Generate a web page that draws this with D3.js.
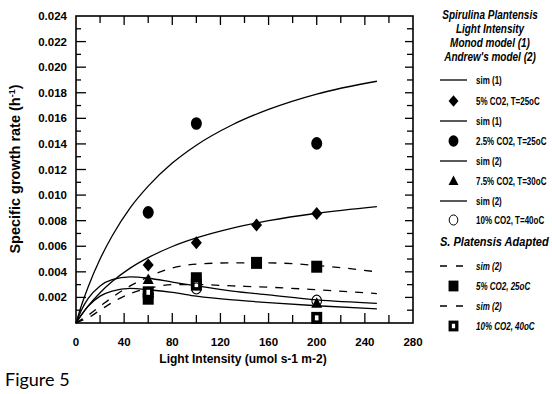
<!DOCTYPE html>
<html>
<head>
<meta charset="utf-8">
<script src="https://cdn.jsdelivr.net/npm/d3@7"></script>
<style>
  body { margin: 0; background: #fff; }
  svg text { font-family: "Liberation Sans", Arial, Helvetica, sans-serif; }
</style>
</head>
<body>
<svg id="chart" width="552" height="394"></svg>
<script>
// simulated curves, values
var simX = [0, 5, 10, 20, 30, 45, 60, 80, 100, 130, 160, 200, 250];
var monodA = [0, 0.0015, 0.0028, 0.0050, 0.0068, 0.0090, 0.0107, 0.0125, 0.0139, 0.0155, 0.0167, 0.0179, 0.0189];
var monodB = [0, 0.0007, 0.00132, 0.00237, 0.00324, 0.00429, 0.00511, 0.00598, 0.00665, 0.00742, 0.0080, 0.00858, 0.0091];
var andrewA = [0, 0.0011, 0.0019, 0.0029, 0.0034, 0.0036, 0.0035, 0.0032, 0.0029, 0.0025, 0.0022, 0.0018, 0.00154];
var andrewB = [0, 0.0007, 0.0013, 0.0021, 0.0025, 0.0027, 0.0026, 0.0024, 0.0021, 0.0018, 0.0016, 0.00135, 0.0011];
var adaptedA = [0, 0.0003, 0.0006, 0.0013, 0.0020, 0.0029, 0.0036, 0.0043, 0.0046, 0.0047, 0.0047, 0.0045, 0.0040];
var adaptedB = [0, 0.0002, 0.0004, 0.0010, 0.0016, 0.0023, 0.0027, 0.0030, 0.0030, 0.0029, 0.0028, 0.0026, 0.0023];

// measured points
var diamondX = [60, 100, 150, 200];
var diamondY = [0.00453, 0.00627, 0.00766, 0.00857];
var circleX = [60, 100, 200];
var circleY = [0.00865, 0.0156, 0.01404];
var triX = [60, 200];
var triY = [0.0034, 0.00154];
var openX = [100, 200];
var openY = [0.0027, 0.00174];
var squareX = [60, 100, 150, 200];
var squareY = [0.0019, 0.0035, 0.0047, 0.0044];
var holeX = [60, 100, 200];
var holeY = [0.0024, 0.0030, 0.0004];

var xTicks = [0, 40, 80, 120, 160, 200, 240, 280];
var yTicks = [0.002, 0.004, 0.006, 0.008, 0.010, 0.012, 0.014, 0.016, 0.018, 0.020, 0.022, 0.024];

var pLeft = 76, pRight = 413, pTop = 16, pBottom = 323;

var svg = d3.select("#chart");

var x = d3.scaleLinear().domain([0, 280]).range([pLeft, pRight]);
var y = d3.scaleLinear().domain([0, 0.024]).range([pBottom, pTop]);

// frame
svg.append("rect")
    .attr("x", pLeft).attr("y", pTop)
    .attr("width", pRight - pLeft).attr("height", pBottom - pTop)
    .attr("fill", "none").attr("stroke", "#000").attr("stroke-width", 1.6);

// ticks, all pointing inward
var minorY = d3.range(1, 24).map(function(i) { return i * 0.001; });
minorY.forEach(function(v, i) {
  var major = (i % 2 == 1);
  svg.append("line").attr("x1", pLeft).attr("x2", pLeft + (major ? 10 : 5))
     .attr("y1", y(v)).attr("y2", y(v)).attr("stroke", "#000").attr("stroke-width", 1.3);
  svg.append("line").attr("x1", pRight).attr("x2", pRight - (major ? 8 : 6))
     .attr("y1", y(v)).attr("y2", y(v)).attr("stroke", "#000").attr("stroke-width", 1.3);
});
d3.range(20, 280, 20).forEach(function(v) {
  var major = (v % 40 == 0);
  svg.append("line").attr("x1", x(v)).attr("x2", x(v))
     .attr("y1", pBottom).attr("y2", pBottom - (major ? 10 : 8)).attr("stroke", "#000").attr("stroke-width", 1.3);
  svg.append("line").attr("x1", x(v)).attr("x2", x(v))
     .attr("y1", pTop).attr("y2", pTop + (major ? 9 : 7)).attr("stroke", "#000").attr("stroke-width", 1.3);
});

// tick labels
svg.append("g").selectAll("text").data(yTicks).enter().append("text")
    .attr("x", 67).attr("y", function(d) { return y(d) + 4; })
    .attr("text-anchor", "end")
    .style("font-size", "11.5px").style("font-weight", "bold")
    .text(d3.format(".3f"));
svg.append("g").selectAll("text").data(xTicks).enter().append("text")
    .attr("x", function(d) { return x(d); }).attr("y", 346)
    .attr("text-anchor", "middle")
    .style("font-size", "11.5px").style("font-weight", "bold")
    .text(function(d) { return d; });

// axis titles
svg.append("text")
    .attr("transform", "translate(243,363) scale(0.89,1)").attr("text-anchor", "middle")
    .style("font-size", "13.5px").style("font-weight", "bold")
    .text("Light Intensity (umol s-1 m-2)");
var yt = svg.append("text")
    .attr("transform", "translate(20,169) rotate(-90)")
    .attr("text-anchor", "middle")
    .style("font-size", "14.5px").style("font-weight", "bold");
yt.append("tspan").text("Specific growth rate (h");
yt.append("tspan").attr("dy", -5).style("font-size", "9px").text("-1");
yt.append("tspan").attr("dy", 5).text(")");

svg.append("text").attr("x", 5).attr("y", 386)
    .style("font-family", "Lato, 'Open Sans', sans-serif").style("font-size", "18px")
    .text("Figure 5");

// curves
var line = d3.line()
    .x(function(d) { return x(d[0]); })
    .y(function(d) { return y(d[1]); })
    .curve(d3.curveMonotoneX);

var curves = [
  { v: monodA, dash: null },
  { v: monodB, dash: null },
  { v: andrewA, dash: null },
  { v: andrewB, dash: null },
  { v: adaptedA, dash: "8,8" },
  { v: adaptedB, dash: "8,8" }
];
curves.forEach(function(c) {
  svg.append("path")
     .attr("d", line(d3.zip(simX, c.v)))
     .attr("fill", "none").attr("stroke", "#000").attr("stroke-width", 1.3)
     .attr("stroke-dasharray", c.dash);
});

// markers
function marker(g, kind, cx, cy, s) {
  s = s || 1;
  var t = "translate(" + cx + "," + cy + ") scale(" + s + ")";
  var m = g.append("g").attr("transform", t);
  if (kind == "diamond") {
    m.append("path").attr("d", "M0,-6.5L5.5,0L0,6.5L-5.5,0Z").attr("fill", "#000");
  } else if (kind == "circle") {
    m.append("ellipse").attr("rx", 5.5).attr("ry", 6.3).attr("fill", "#000");
  } else if (kind == "triangle") {
    m.append("path").attr("d", "M0,-6L5.5,4.5L-5.5,4.5Z").attr("fill", "#000");
  } else if (kind == "open") {
    m.append("ellipse").attr("rx", 4.8).attr("ry", 5.6)
     .attr("fill", "#fff").attr("fill-opacity", 0).attr("stroke", "#000").attr("stroke-width", 1.1);
  } else if (kind == "square") {
    m.append("rect").attr("x", -5.5).attr("y", -6).attr("width", 11).attr("height", 12).attr("fill", "#000");
  } else if (kind == "hole") {
    m.append("rect").attr("x", -5.5).attr("y", -6).attr("width", 11).attr("height", 12).attr("fill", "#000");
    m.append("rect").attr("x", -1.8).attr("y", -2.5).attr("width", 3.6).attr("height", 5).attr("fill", "#fff");
  }
}

var pts = svg.append("g");
d3.zip(squareX, squareY).forEach(function(p) { marker(pts, "square", x(p[0]), y(p[1])); });
d3.zip(holeX, holeY).forEach(function(p) { marker(pts, "hole", x(p[0]), y(p[1])); });
d3.zip(openX, openY).forEach(function(p) { marker(pts, "open", x(p[0]), y(p[1])); });
d3.zip(triX, triY).forEach(function(p) { marker(pts, "triangle", x(p[0]), y(p[1])); });
d3.zip(diamondX, diamondY).forEach(function(p) { marker(pts, "diamond", x(p[0]), y(p[1])); });
d3.zip(circleX, circleY).forEach(function(p) { marker(pts, "circle", x(p[0]), y(p[1])); });

// legend (condensed look via horizontal squeeze)
var lg = svg.append("g");
["Spirulina Plantensis", "Light Intensity", "Monod model (1)", "Andrew's model (2)"].forEach(function(t, i) {
  lg.append("text")
    .attr("transform", "translate(490," + (19 + i * 14) + ") scale(0.8,1)")
    .attr("text-anchor", "middle")
    .style("font-size", "12.5px").style("font-weight", "bold").style("font-style", "italic")
    .text(t);
});

var legendRows = [
  { y: 80, kind: "line", label: "sim (1)" },
  { y: 101, kind: "diamond", label: "5% CO2, T=25oC" },
  { y: 121, kind: "line", label: "sim (1)" },
  { y: 141, kind: "circle", label: "2.5% CO2, T=25oC" },
  { y: 161, kind: "line", label: "sim (2)" },
  { y: 181, kind: "triangle", label: "7.5% CO2, T=30oC" },
  { y: 201, kind: "line", label: "sim (2)" },
  { y: 220, kind: "open", label: "10% CO2, T=40oC" },
  { y: 266, kind: "dash", label: "sim (2)", italic: true },
  { y: 286, kind: "square", label: "5% CO2, 25oC", italic: true },
  { y: 306, kind: "dash", label: "sim (2)", italic: true },
  { y: 326, kind: "hole", label: "10% CO2, 40oC", italic: true }
];
legendRows.forEach(function(r) {
  if (r.kind == "line" || r.kind == "dash") {
    lg.append("line").attr("x1", 440).attr("x2", 467).attr("y1", r.y).attr("y2", r.y)
      .attr("stroke", "#000").attr("stroke-width", 1.3)
      .attr("stroke-dasharray", r.kind == "dash" ? "7,9" : null);
  } else {
    marker(lg, r.kind, 453.5, r.y, 0.9);
  }
  lg.append("text")
    .attr("transform", "translate(476," + (r.y + 3.5) + ") scale(0.8,1)")
    .style("font-size", "10px").style("font-weight", "bold")
    .style("font-style", r.italic ? "italic" : "normal")
    .text(r.label);
});
lg.append("text")
  .attr("transform", "translate(440,246) scale(0.85,1)")
  .style("font-size", "13px").style("font-weight", "bold").style("font-style", "italic")
  .text("S. Platensis Adapted");
</script>
</body>
</html>
